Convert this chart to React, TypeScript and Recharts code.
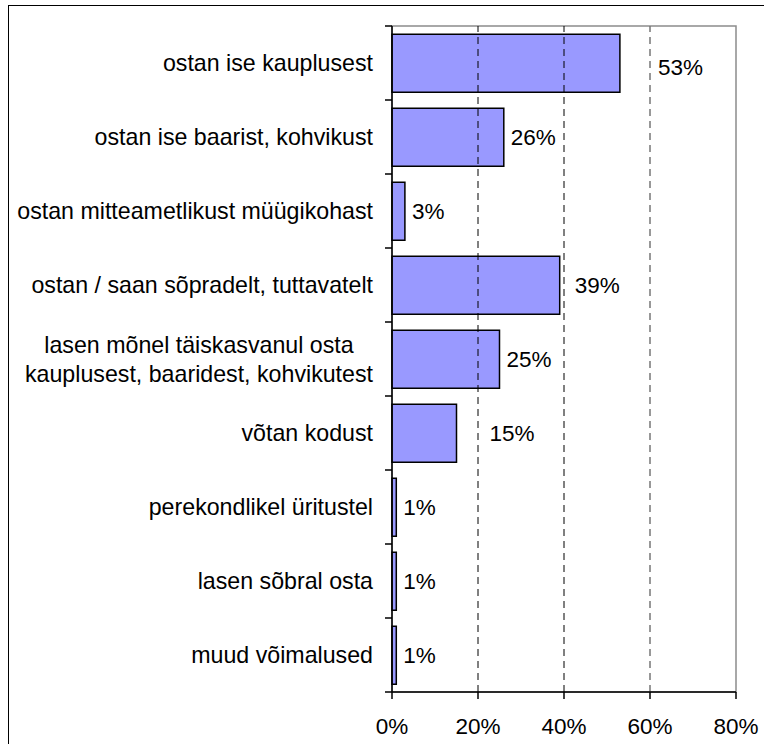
import React, {useLayoutEffect, useRef, useState} from "react";
import {Bar, BarChart, LabelList, ReferenceArea, ReferenceLine, XAxis, YAxis} from "recharts";

const categories = [
    "ostan ise kauplusest",
    "ostan ise baarist, kohvikust",
    "ostan mitteametlikust müügikohast",
    "ostan / saan sõpradelt, tuttavatelt",
    "lasen mõnel täiskasvanul osta\nkauplusest, baaridest, kohvikutest",
    "võtan kodust",
    "perekondlikel üritustel",
    "lasen sõbral osta",
    "muud võimalused",
];
const shares = [53, 26, 3, 39, 25, 15, 1, 1, 1];
const xTicks = [0, 20, 40, 60, 80];

const data = categories.map((name, i) => ({name, value: shares[i]}));

const FONT = "'Liberation Sans', Arial, sans-serif";
const W = 764;
const H = 744;
const AXIS_X = 392;
const PLOT_TOP = 26;
const PLOT_BOTTOM = 692;
const BAND = (PLOT_BOTTOM - PLOT_TOP) / categories.length;

// hand-moved labels in the original
const labelNudge: Record<number, {dx: number; dy: number}> = {
    0: {dx: 31, dy: 4},
    3: {dx: 8, dy: 0},
    5: {dx: 26, dy: 0},
};

const CategoryTick = (props: any) => {
    const {x, y, payload, index} = props;
    const lines = String(payload.value).split("\n");
    const ref = useRef<SVGGElement>(null);
    const [w, setW] = useState(0);

    useLayoutEffect(() => {
        let m = 0;
        ref.current?.querySelectorAll("text").forEach((t) => {
            m = Math.max(m, t.getComputedTextLength());
        });
        if (Math.abs(m - w) > 0.5) setW(m);
    });

    const left = Math.max(10, x - w);
    const cx = left + w / 2;
    const lh = 29;
    const y0 = y - ((lines.length - 1) * lh) / 2;

    return (
        <g>
            <g ref={ref}>
                {lines.map((line, i) => (
                    <text
                        key={i}
                        x={cx}
                        y={y0 + i * lh}
                        dy="0.35em"
                        textAnchor="middle"
                        fontSize={23.2}
                        fontFamily={FONT}
                        fill="#000"
                    >
                        {line}
                    </text>
                ))}
            </g>
            <line x1={AXIS_X - 7} x2={AXIS_X} y1={y - BAND / 2} y2={y - BAND / 2} stroke="#000" strokeWidth={1.5}/>
            {index === categories.length - 1 && (
                <line x1={AXIS_X - 7} x2={AXIS_X} y1={y + BAND / 2} y2={y + BAND / 2} stroke="#000" strokeWidth={1.5}/>
            )}
        </g>
    );
};

const renderValueLabel = (props: any) => {
    const {x, y, width, height, value, index} = props;
    const n = labelNudge[index] ?? {dx: 0, dy: 0};
    return (
        <text
            x={Number(x) + Number(width) + 7 + n.dx}
            y={Number(y) + Number(height) / 2 + n.dy}
            dy="0.35em"
            fontSize={22.5}
            fontFamily={FONT}
            fill="#000"
        >
            {value}%
        </text>
    );
};

export default function App() {
    return (
        <div
            style={{
                position: "absolute",
                left: 0,
                top: 0,
                width: W,
                height: H,
                overflow: "hidden",
                background: "#fff",
                fontFamily: FONT,
            }}
        >
            <div
                style={{
                    position: "absolute",
                    left: 8,
                    top: 5,
                    width: 800,
                    height: 800,
                    border: "1.5px solid #000",
                    boxSizing: "border-box",
                }}
            />
            <div style={{position: "absolute", left: 0, top: 0}}>
                <BarChart
                    width={W}
                    height={H}
                    data={data}
                    layout="vertical"
                    margin={{top: PLOT_TOP, right: 28, bottom: 0, left: 0}}
                    barCategoryGap="11%"
                >
                    <ReferenceArea x1={0} x2={80} fill="none" stroke="#8c8c8c" strokeWidth={1.5}/>
                    <ReferenceLine x={20} stroke="#000" strokeDasharray="7 5"/>
                    <ReferenceLine x={40} stroke="#000" strokeDasharray="7 5"/>
                    <ReferenceLine x={60} stroke="#777" strokeWidth={1.5} strokeDasharray="7 5"/>
                    <XAxis
                        type="number"
                        domain={[0, 80]}
                        ticks={xTicks}
                        interval={0}
                        tickFormatter={(v: number) => `${v}%`}
                        height={H - PLOT_BOTTOM}
                        tickSize={7}
                        tickMargin={19}
                        axisLine={{stroke: "#000", strokeWidth: 1.5}}
                        tickLine={{stroke: "#000", strokeWidth: 1.5}}
                        tick={{fill: "#000", fontSize: 22.5, fontFamily: FONT}}
                    />
                    <YAxis
                        type="category"
                        dataKey="name"
                        width={AXIS_X}
                        interval={0}
                        tickSize={0}
                        tickMargin={19}
                        tickLine={false}
                        axisLine={{stroke: "#000", strokeWidth: 1.5}}
                        tick={<CategoryTick/>}
                    />
                    <Bar
                        dataKey="value"
                        fill="#9999ff"
                        stroke="#000"
                        strokeWidth={1.5}
                        isAnimationActive={false}
                    >
                        <LabelList dataKey="value" content={renderValueLabel}/>
                    </Bar>
                </BarChart>
            </div>
        </div>
    );
}
